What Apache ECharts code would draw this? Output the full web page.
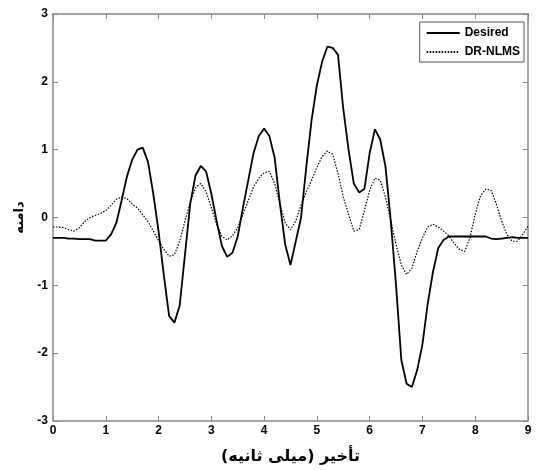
<!DOCTYPE html>
<html><head><meta charset="utf-8">
<script src="https://cdn.jsdelivr.net/npm/echarts@6/dist/echarts.min.js"></script>
<style>html,body{margin:0;padding:0;background:#fff}#c{width:536px;height:470px}</style>
</head><body><div id="c"></div>
<script>
const times = [];
for (let i = 0; i <= 90; i++) times.push(+(i * 0.1).toFixed(1));
const desired = [
 -0.30,-0.30,-0.30,-0.31,-0.31,-0.32,-0.32,-0.32,-0.34,-0.34,
 -0.34,-0.25,-0.08,0.25,0.60,0.85,1.00,1.03,0.82,0.35,
 -0.20,-0.85,-1.45,-1.55,-1.30,-0.55,0.20,0.62,0.76,0.68,
 0.35,-0.05,-0.42,-0.58,-0.52,-0.28,0.15,0.55,0.95,1.20,
 1.31,1.20,0.88,0.20,-0.40,-0.70,-0.35,0.00,0.75,1.44,
 1.95,2.30,2.52,2.50,2.40,1.60,1.00,0.50,0.37,0.42,
 0.95,1.30,1.15,0.75,-0.05,-1.00,-2.10,-2.45,-2.50,-2.25,
 -1.87,-1.27,-0.80,-0.45,-0.33,-0.28,-0.28,-0.28,-0.28,-0.28,
 -0.28,-0.28,-0.28,-0.31,-0.32,-0.31,-0.30,-0.29,-0.30,-0.30,
 -0.30];
const drnlms = [
 -0.14,-0.14,-0.15,-0.18,-0.20,-0.15,-0.06,0.00,0.03,0.06,
 0.10,0.18,0.27,0.30,0.28,0.20,0.14,0.04,-0.06,-0.20,
 -0.34,-0.47,-0.57,-0.55,-0.35,-0.05,0.22,0.44,0.50,0.38,
 0.15,-0.10,-0.28,-0.33,-0.27,-0.15,0.05,0.25,0.45,0.58,
 0.66,0.68,0.50,0.20,-0.08,-0.18,-0.05,0.18,0.38,0.55,
 0.74,0.90,0.98,0.93,0.65,0.30,0.05,-0.20,-0.18,0.10,
 0.40,0.58,0.55,0.30,-0.05,-0.40,-0.70,-0.84,-0.75,-0.50,
 -0.30,-0.14,-0.10,-0.14,-0.20,-0.27,-0.38,-0.47,-0.50,-0.30,
 0.05,0.32,0.42,0.40,0.20,-0.05,-0.25,-0.35,-0.35,-0.25,
 -0.13];
const xLabel = 'تأخیر (میلی ثانیه)';
const yLabel = 'دامنه';
const seriesNames = ['Desired', 'DR-NLMS'];

const axisGray = '#888';
const lbl = {color:'#000', fontWeight:'bold', fontFamily:'Liberation Sans', fontSize:12};
const chart = echarts.init(document.getElementById('c'));
chart.setOption({
  animation:false,
  backgroundColor:'#fff',
  grid:{left:53,right:8,top:14,bottom:48},
  legend:{
    right:12, top:22, orient:'vertical', itemWidth:33, itemHeight:10, itemGap:7,
    padding:[5,4,4,6],
    borderColor:'#555', borderWidth:1, backgroundColor:'#fff',
    itemStyle:{opacity:0},
    textStyle:{color:'#000', fontWeight:'bold', fontFamily:'Liberation Sans', fontSize:12},
    data:seriesNames
  },
  xAxis:[
    {type:'value', min:0, max:9, interval:1, position:'bottom',
     axisLine:{onZero:false, lineStyle:{color:axisGray, width:1.5}},
     axisTick:{inside:true, length:5, lineStyle:{color:axisGray}},
     axisLabel:Object.assign({margin:4}, lbl),
     splitLine:{show:false},
     name:xLabel, nameLocation:'middle', nameGap:28,
     nameTextStyle:{color:'#000', fontWeight:'bold', fontFamily:'DejaVu Sans', fontSize:16}},
    {type:'value', min:0, max:9, interval:1, position:'top',
     axisLine:{onZero:false, lineStyle:{color:axisGray, width:1.5}},
     axisTick:{inside:true, length:5, lineStyle:{color:axisGray}},
     axisLabel:{show:false}, splitLine:{show:false}}
  ],
  yAxis:[
    {type:'value', min:-3, max:3, interval:1, position:'left',
     axisLine:{show:true, onZero:false, lineStyle:{color:axisGray, width:1.5}},
     axisTick:{show:true, inside:true, length:5, lineStyle:{color:axisGray}},
     axisLabel:Object.assign({margin:5}, lbl),
     splitLine:{show:false},
     name:yLabel, nameLocation:'middle', nameGap:25, nameRotate:90,
     nameTextStyle:{color:'#000', fontWeight:'bold', fontFamily:'DejaVu Sans', fontSize:13}},
    {type:'value', min:-3, max:3, interval:1, position:'right',
     axisLine:{show:true, onZero:false, lineStyle:{color:axisGray, width:1.5}},
     axisTick:{show:true, inside:true, length:5, lineStyle:{color:axisGray}},
     axisLabel:{show:false}, splitLine:{show:false}}
  ],
  series:[
    {name:seriesNames[0], type:'line', symbol:'none', data:times.map((t,i)=>[t,desired[i]]),
     lineStyle:{color:'#000', width:1.8}, itemStyle:{color:'#000'}},
    {name:seriesNames[1], type:'line', symbol:'none', data:times.map((t,i)=>[t,drnlms[i]]),
     lineStyle:{color:'#000', width:1.2, type:[1.5,1.5]}, itemStyle:{color:'#000'}}
  ]
});
</script></body></html>
